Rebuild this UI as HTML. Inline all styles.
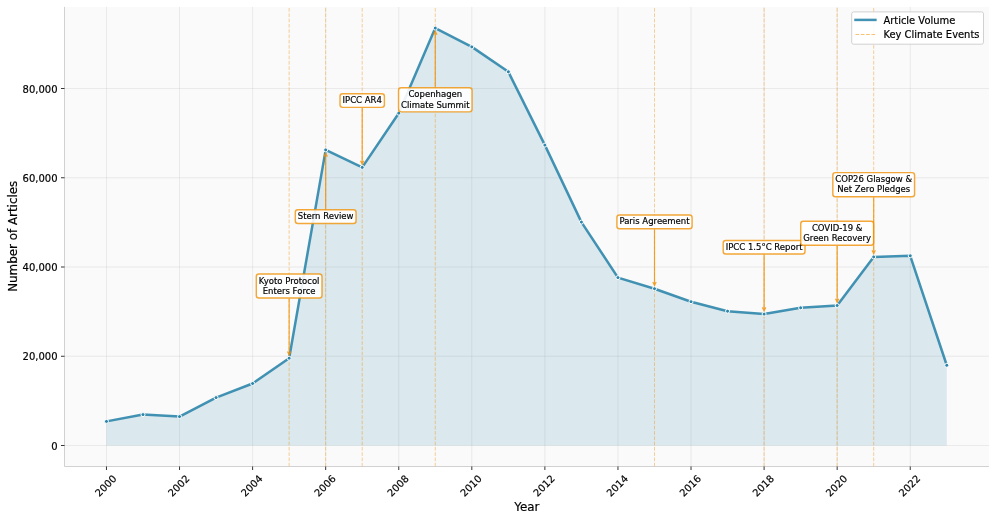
<!DOCTYPE html>
<html><head><meta charset="utf-8"><title>Climate Article Volume</title>
<style>html,body{margin:0;padding:0;background:#fff;overflow:hidden}svg{display:block}text{fill:#000;stroke:#000;stroke-width:0.18px;stroke-linejoin:round}</style></head>
<body>
<svg width="996" height="521" viewBox="0 0 996 521" font-family="'DejaVu Sans', 'Liberation Sans', sans-serif">
<rect x="0" y="0" width="996" height="521" fill="#ffffff"/>
<rect x="64.1" y="6.9" width="924.80" height="460.00" fill="#fafafa"/>
<path d="M106.47 6.9V466.5M179.54 6.9V466.5M252.61 6.9V466.5M325.68 6.9V466.5M398.75 6.9V466.5M471.82 6.9V466.5M544.89 6.9V466.5M617.96 6.9V466.5M691.03 6.9V466.5M764.10 6.9V466.5M837.17 6.9V466.5M910.24 6.9V466.5M64.5 445.50H988.9M64.5 356.25H988.9M64.5 267.00H988.9M64.5 177.75H988.9M64.5 88.50H988.9" stroke="#b0b0b0" stroke-opacity="0.28" stroke-width="0.8" fill="none"/>
<polygon points="106.47,445.5 106.47,421.40 143.00,414.60 179.54,416.60 216.07,397.60 252.61,383.50 289.14,358.20 325.68,149.90 362.21,167.40 398.75,113.20 435.28,28.10 471.82,46.90 508.36,71.80 544.89,145.10 581.42,222.10 617.96,277.60 654.50,288.70 691.03,301.70 727.56,311.20 764.10,314.10 800.63,307.80 837.17,305.50 873.70,256.90 910.24,255.80 946.77,365.30 946.77,445.5" fill="#2E86AB" fill-opacity="0.15"/>
<path d="M289.14 466.5V6.9M325.68 466.5V6.9M362.21 466.5V6.9M435.28 466.5V6.9M654.50 466.5V6.9M764.10 466.5V6.9M837.17 466.5V6.9M873.70 466.5V6.9" stroke="#F18F01" stroke-opacity="0.4" stroke-width="1" stroke-dasharray="3.691 1.597" fill="none"/>
<polyline points="106.47,421.40 143.00,414.60 179.54,416.60 216.07,397.60 252.61,383.50 289.14,358.20 325.68,149.90 362.21,167.40 398.75,113.20 435.28,28.10 471.82,46.90 508.36,71.80 544.89,145.10 581.42,222.10 617.96,277.60 654.50,288.70 691.03,301.70 727.56,311.20 764.10,314.10 800.63,307.80 837.17,305.50 873.70,256.90 910.24,255.80 946.77,365.30" fill="none" stroke="#2E86AB" stroke-opacity="0.9" stroke-width="2.5" stroke-linejoin="round" stroke-linecap="square"/>
<circle cx="106.47" cy="421.40" r="2" fill="#2E86AB" stroke="#ffffff" stroke-width="1"/>
<circle cx="143.00" cy="414.60" r="2" fill="#2E86AB" stroke="#ffffff" stroke-width="1"/>
<circle cx="179.54" cy="416.60" r="2" fill="#2E86AB" stroke="#ffffff" stroke-width="1"/>
<circle cx="216.07" cy="397.60" r="2" fill="#2E86AB" stroke="#ffffff" stroke-width="1"/>
<circle cx="252.61" cy="383.50" r="2" fill="#2E86AB" stroke="#ffffff" stroke-width="1"/>
<circle cx="289.14" cy="358.20" r="2" fill="#2E86AB" stroke="#ffffff" stroke-width="1"/>
<circle cx="325.68" cy="149.90" r="2" fill="#2E86AB" stroke="#ffffff" stroke-width="1"/>
<circle cx="362.21" cy="167.40" r="2" fill="#2E86AB" stroke="#ffffff" stroke-width="1"/>
<circle cx="398.75" cy="113.20" r="2" fill="#2E86AB" stroke="#ffffff" stroke-width="1"/>
<circle cx="435.28" cy="28.10" r="2" fill="#2E86AB" stroke="#ffffff" stroke-width="1"/>
<circle cx="471.82" cy="46.90" r="2" fill="#2E86AB" stroke="#ffffff" stroke-width="1"/>
<circle cx="508.36" cy="71.80" r="2" fill="#2E86AB" stroke="#ffffff" stroke-width="1"/>
<circle cx="544.89" cy="145.10" r="2" fill="#2E86AB" stroke="#ffffff" stroke-width="1"/>
<circle cx="581.42" cy="222.10" r="2" fill="#2E86AB" stroke="#ffffff" stroke-width="1"/>
<circle cx="617.96" cy="277.60" r="2" fill="#2E86AB" stroke="#ffffff" stroke-width="1"/>
<circle cx="654.50" cy="288.70" r="2" fill="#2E86AB" stroke="#ffffff" stroke-width="1"/>
<circle cx="691.03" cy="301.70" r="2" fill="#2E86AB" stroke="#ffffff" stroke-width="1"/>
<circle cx="727.56" cy="311.20" r="2" fill="#2E86AB" stroke="#ffffff" stroke-width="1"/>
<circle cx="764.10" cy="314.10" r="2" fill="#2E86AB" stroke="#ffffff" stroke-width="1"/>
<circle cx="800.63" cy="307.80" r="2" fill="#2E86AB" stroke="#ffffff" stroke-width="1"/>
<circle cx="837.17" cy="305.50" r="2" fill="#2E86AB" stroke="#ffffff" stroke-width="1"/>
<circle cx="873.70" cy="256.90" r="2" fill="#2E86AB" stroke="#ffffff" stroke-width="1"/>
<circle cx="910.24" cy="255.80" r="2" fill="#2E86AB" stroke="#ffffff" stroke-width="1"/>
<circle cx="946.77" cy="365.30" r="2" fill="#2E86AB" stroke="#ffffff" stroke-width="1"/>
<path d="M64.5 6.9V466.5H988.9" stroke="#cccccc" stroke-width="0.9" fill="none" stroke-linejoin="miter"/>
<path d="M106.47 466.5v3.5M179.54 466.5v3.5M252.61 466.5v3.5M325.68 466.5v3.5M398.75 466.5v3.5M471.82 466.5v3.5M544.89 466.5v3.5M617.96 466.5v3.5M691.03 466.5v3.5M764.10 466.5v3.5M837.17 466.5v3.5M910.24 466.5v3.5M64.5 445.50h-3.5M64.5 356.25h-3.5M64.5 267.00h-3.5M64.5 177.75h-3.5M64.5 88.50h-3.5" stroke="#000" stroke-width="0.8" fill="none"/>
<text x="57.6" y="449.50" font-size="10" text-anchor="end">0</text>
<text x="57.6" y="360.25" font-size="10" text-anchor="end">20,000</text>
<text x="57.6" y="271.00" font-size="10" text-anchor="end">40,000</text>
<text x="57.6" y="181.75" font-size="10" text-anchor="end">60,000</text>
<text x="57.6" y="92.50" font-size="10" text-anchor="end">80,000</text>
<text transform="translate(105.62,485.6) rotate(-45)" x="0" y="3.6" font-size="10" text-anchor="middle">2000</text>
<text transform="translate(178.69,485.6) rotate(-45)" x="0" y="3.6" font-size="10" text-anchor="middle">2002</text>
<text transform="translate(251.76,485.6) rotate(-45)" x="0" y="3.6" font-size="10" text-anchor="middle">2004</text>
<text transform="translate(324.83,485.6) rotate(-45)" x="0" y="3.6" font-size="10" text-anchor="middle">2006</text>
<text transform="translate(397.90,485.6) rotate(-45)" x="0" y="3.6" font-size="10" text-anchor="middle">2008</text>
<text transform="translate(470.97,485.6) rotate(-45)" x="0" y="3.6" font-size="10" text-anchor="middle">2010</text>
<text transform="translate(544.04,485.6) rotate(-45)" x="0" y="3.6" font-size="10" text-anchor="middle">2012</text>
<text transform="translate(617.11,485.6) rotate(-45)" x="0" y="3.6" font-size="10" text-anchor="middle">2014</text>
<text transform="translate(690.18,485.6) rotate(-45)" x="0" y="3.6" font-size="10" text-anchor="middle">2016</text>
<text transform="translate(763.25,485.6) rotate(-45)" x="0" y="3.6" font-size="10" text-anchor="middle">2018</text>
<text transform="translate(836.32,485.6) rotate(-45)" x="0" y="3.6" font-size="10" text-anchor="middle">2020</text>
<text transform="translate(909.39,485.6) rotate(-45)" x="0" y="3.6" font-size="10" text-anchor="middle">2022</text>
<text x="526.8" y="511.3" font-size="11.9" text-anchor="middle">Year</text>
<text transform="translate(16.8,236.3) rotate(-90)" font-size="11.9" text-anchor="middle">Number of Articles</text>
<rect x="256.31" y="273.93" width="65.68" height="24.05" rx="2.55" ry="2.55" fill="#ffffff" fill-opacity="0.9" stroke="#F18F01" stroke-opacity="0.78" stroke-width="1.45"/>
<path d="M289.14 298.57V354.86M287.44 351.46L289.14 354.86L290.84 351.46" stroke="#F18F01" stroke-opacity="0.8" stroke-width="1.2" fill="none" stroke-linejoin="miter" stroke-linecap="butt" stroke-miterlimit="10"/>
<text x="289.14" y="283.57" font-size="8.5" text-anchor="middle">Kyoto Protocol</text>
<text x="289.14" y="293.67" font-size="8.5" text-anchor="middle">Enters Force</text>
<rect x="295.32" y="209.80" width="60.72" height="13.70" rx="2.55" ry="2.55" fill="#ffffff" fill-opacity="0.9" stroke="#F18F01" stroke-opacity="0.78" stroke-width="1.45"/>
<path d="M325.68 209.20V153.24M323.98 156.64L325.68 153.24L327.38 156.64" stroke="#F18F01" stroke-opacity="0.8" stroke-width="1.2" fill="none" stroke-linejoin="miter" stroke-linecap="butt" stroke-miterlimit="10"/>
<text x="325.68" y="219.20" font-size="8.5" text-anchor="middle">Stern Review</text>
<rect x="340.05" y="93.70" width="44.33" height="13.70" rx="2.55" ry="2.55" fill="#ffffff" fill-opacity="0.9" stroke="#F18F01" stroke-opacity="0.78" stroke-width="1.45"/>
<path d="M362.21 108.00V164.06M360.51 160.66L362.21 164.06L363.91 160.66" stroke="#F18F01" stroke-opacity="0.8" stroke-width="1.2" fill="none" stroke-linejoin="miter" stroke-linecap="butt" stroke-miterlimit="10"/>
<text x="362.21" y="103.10" font-size="8.5" text-anchor="middle">IPCC AR4</text>
<rect x="398.56" y="87.82" width="73.45" height="24.05" rx="2.55" ry="2.55" fill="#ffffff" fill-opacity="0.9" stroke="#F18F01" stroke-opacity="0.78" stroke-width="1.45"/>
<path d="M435.28 87.22V31.44M433.58 34.84L435.28 31.44L436.98 34.84" stroke="#F18F01" stroke-opacity="0.8" stroke-width="1.2" fill="none" stroke-linejoin="miter" stroke-linecap="butt" stroke-miterlimit="10"/>
<text x="435.28" y="97.48" font-size="8.5" text-anchor="middle">Copenhagen</text>
<text x="435.28" y="107.58" font-size="8.5" text-anchor="middle">Climate Summit</text>
<rect x="616.92" y="215.00" width="75.14" height="13.70" rx="2.55" ry="2.55" fill="#ffffff" fill-opacity="0.9" stroke="#F18F01" stroke-opacity="0.78" stroke-width="1.45"/>
<path d="M654.50 229.30V285.36M652.79 281.96L654.50 285.36L656.20 281.96" stroke="#F18F01" stroke-opacity="0.8" stroke-width="1.2" fill="none" stroke-linejoin="miter" stroke-linecap="butt" stroke-miterlimit="10"/>
<text x="654.50" y="224.40" font-size="8.5" text-anchor="middle">Paris Agreement</text>
<rect x="723.21" y="240.40" width="81.79" height="13.70" rx="2.55" ry="2.55" fill="#ffffff" fill-opacity="0.9" stroke="#F18F01" stroke-opacity="0.78" stroke-width="1.45"/>
<path d="M764.10 254.70V310.76M762.40 307.36L764.10 310.76L765.80 307.36" stroke="#F18F01" stroke-opacity="0.8" stroke-width="1.2" fill="none" stroke-linejoin="miter" stroke-linecap="butt" stroke-miterlimit="10"/>
<text x="764.10" y="249.80" font-size="8.5" text-anchor="middle">IPCC 1.5°C Report</text>
<rect x="800.74" y="221.22" width="72.86" height="24.05" rx="2.55" ry="2.55" fill="#ffffff" fill-opacity="0.9" stroke="#F18F01" stroke-opacity="0.78" stroke-width="1.45"/>
<path d="M837.17 245.88V302.16M835.47 298.76L837.17 302.16L838.87 298.76" stroke="#F18F01" stroke-opacity="0.8" stroke-width="1.2" fill="none" stroke-linejoin="miter" stroke-linecap="butt" stroke-miterlimit="10"/>
<text x="837.17" y="230.88" font-size="8.5" text-anchor="middle">COVID-19 &amp;</text>
<text x="837.17" y="240.98" font-size="8.5" text-anchor="middle">Green Recovery</text>
<rect x="832.84" y="172.63" width="81.73" height="24.05" rx="2.55" ry="2.55" fill="#ffffff" fill-opacity="0.9" stroke="#F18F01" stroke-opacity="0.78" stroke-width="1.45"/>
<path d="M873.70 197.28V253.56M872.00 250.16L873.70 253.56L875.40 250.16" stroke="#F18F01" stroke-opacity="0.8" stroke-width="1.2" fill="none" stroke-linejoin="miter" stroke-linecap="butt" stroke-miterlimit="10"/>
<text x="873.70" y="182.28" font-size="8.5" text-anchor="middle">COP26 Glasgow &amp;</text>
<text x="873.70" y="192.38" font-size="8.5" text-anchor="middle">Net Zero Pledges</text>
<rect x="851.7" y="11.9" width="131.8" height="32.3" rx="2" ry="2" fill="#ffffff" fill-opacity="0.9" stroke="#cccccc" stroke-opacity="0.9" stroke-width="1"/>
<path d="M855.5 19.9H875.4" stroke="#2E86AB" stroke-opacity="0.9" stroke-width="2.5" stroke-linecap="square"/>
<path d="M855.5 34.5H875.4" stroke="#F18F01" stroke-opacity="0.55" stroke-width="1" stroke-dasharray="3.7 1.6"/>
<text x="883.4" y="23.8" font-size="9.93">Article Volume</text>
<text x="883.4" y="37.9" font-size="9.93">Key Climate Events</text>
</svg>
</body></html>
